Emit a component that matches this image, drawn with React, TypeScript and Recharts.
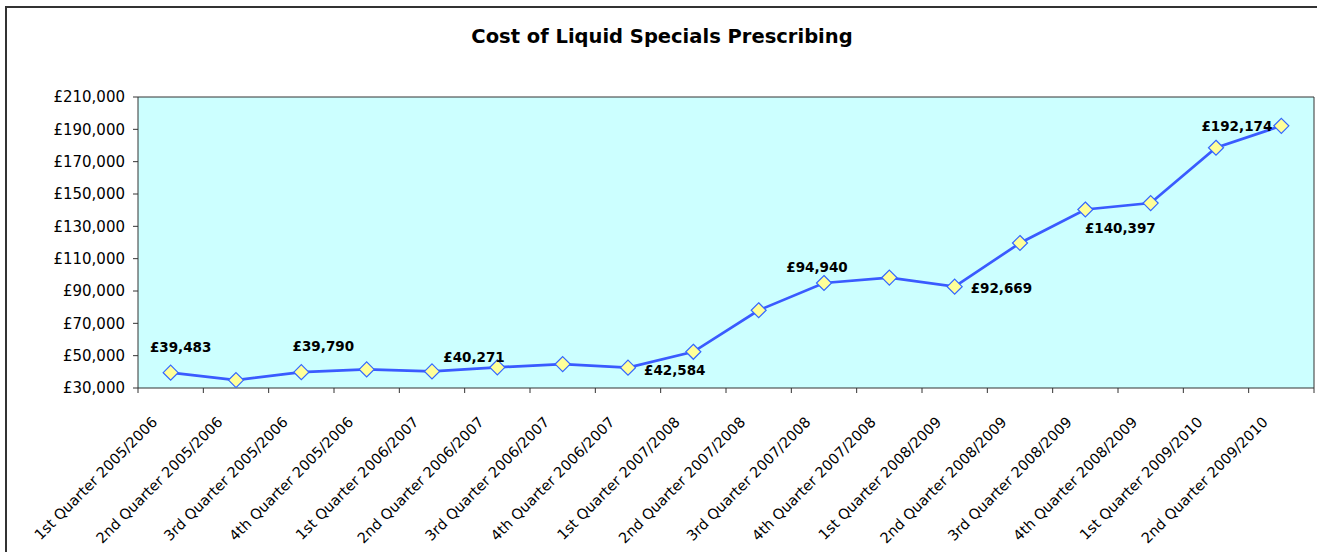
import React from 'react';
import { LineChart, Line, XAxis, YAxis, CartesianGrid, LabelList } from 'recharts';

const categories = [
  '1st Quarter 2005/2006', '2nd Quarter 2005/2006', '3rd Quarter 2005/2006', '4th Quarter 2005/2006',
  '1st Quarter 2006/2007', '2nd Quarter 2006/2007', '3rd Quarter 2006/2007', '4th Quarter 2006/2007',
  '1st Quarter 2007/2008', '2nd Quarter 2007/2008', '3rd Quarter 2007/2008', '4th Quarter 2007/2008',
  '1st Quarter 2008/2009', '2nd Quarter 2008/2009', '3rd Quarter 2008/2009', '4th Quarter 2008/2009',
  '1st Quarter 2009/2010', '2nd Quarter 2009/2010',
];

const costs = [
  39483, 34900, 39790, 41500,
  40271, 42800, 44800, 42584,
  52400, 78100, 94940, 98300,
  92669, 119700, 140397, 144400,
  178600, 192174,
];

const yTicks = [30000, 50000, 70000, 90000, 110000, 130000, 150000, 170000, 190000, 210000];
const labelledIndices = [0, 2, 4, 7, 10, 12, 14, 17];

const title = 'Cost of Liquid Specials Prescribing';

// layout / style
const CHART_W = 1317;
const CHART_H = 552;
const MARGIN = { top: 97, right: 3, bottom: 0, left: 0 };
const Y_AXIS_W = 138;
const X_AXIS_H = 164;
const PLOT_W = CHART_W - MARGIN.left - MARGIN.right - Y_AXIS_W;
const BAND = PLOT_W / categories.length;
const FONT = "'DejaVu Sans', Verdana, sans-serif";
const AXIS = '#333333';
const LINE = '#3A5BFF';

const labelPlacement: Record<number, { dx: number; dy: number; anchor: 'start' | 'middle' | 'end' }> = {
  0: { dx: 10, dy: -21, anchor: 'middle' },
  2: { dx: 22, dy: -21, anchor: 'middle' },
  4: { dx: 42, dy: -9, anchor: 'middle' },
  7: { dx: 16, dy: 7, anchor: 'start' },
  10: { dx: -7, dy: -11, anchor: 'middle' },
  12: { dx: 16, dy: 6, anchor: 'start' },
  14: { dx: 35, dy: 23, anchor: 'middle' },
  17: { dx: -9, dy: 5, anchor: 'end' },
};

const data = categories.map((c, i) => ({ name: c, cost: costs[i] }));

const fmt = (v: number) => '£' + String(Math.round(v)).replace(/\B(?=(\d{3})+(?!\d))/g, ',');

const XTick = (props: any) => {
  const { x, y, payload, index } = props;
  return (
    <g>
      <line x1={x - BAND / 2} y1={y} x2={x - BAND / 2} y2={y + 5} stroke={AXIS} strokeWidth={1} />
      {index === categories.length - 1 && (
        <line x1={x + BAND / 2} y1={y} x2={x + BAND / 2} y2={y + 5} stroke={AXIS} strokeWidth={1} />
      )}
      <text
        transform={`translate(${x - 12.5},${y + 35}) rotate(-45)`}
        textAnchor="end"
        fontSize={14.5}
        fontFamily={FONT}
        fill="#000"
      >
        {payload.value}
      </text>
    </g>
  );
};

const Diamond = (props: any) => {
  const { cx, cy, index } = props;
  if (cx == null || cy == null) return <g key={`d${index}`} />;
  const r = 7.5;
  return (
    <path
      key={`d${index}`}
      d={`M${cx},${cy - r} L${cx + r},${cy} L${cx},${cy + r} L${cx - r},${cy} Z`}
      fill="#FFFF99"
      stroke="#3366FF"
      strokeWidth={1.2}
    />
  );
};

const DataLabel = (props: any) => {
  const { x, y, value, index } = props;
  if (!labelledIndices.includes(index)) return null;
  const p = labelPlacement[index];
  return (
    <text
      x={x + p.dx}
      y={y + p.dy}
      textAnchor={p.anchor}
      fontSize={13.5}
      fontWeight="bold"
      fontFamily={FONT}
      fill="#000"
    >
      {fmt(value)}
    </text>
  );
};

export default function App() {
  return (
    <div
      style={{
        position: 'fixed',
        left: 0,
        top: 0,
        width: CHART_W,
        height: CHART_H,
        overflow: 'hidden',
        background: '#fff',
      }}
    >
      <svg style={{ position: 'absolute', left: 0, top: 0 }} width={CHART_W} height={CHART_H}>
        <line x1={6} y1={6} x2={6} y2={CHART_H} stroke={AXIS} strokeWidth={2} />
        <line x1={5} y1={7} x2={CHART_W} y2={7} stroke={AXIS} strokeWidth={2} />
        <text x={662} y={43} textAnchor="middle" fontSize={19.5} fontWeight="bold" fontFamily={FONT} fill="#000">
          {title}
        </text>
      </svg>
      <div style={{ position: 'absolute', left: 0, top: 0 }}>
        <LineChart width={CHART_W} height={CHART_H} data={data} margin={MARGIN} style={{ fontFamily: FONT }}>
          <CartesianGrid
            fill="#CCFFFF"
            stroke={AXIS}
            horizontal
            vertical
            horizontalCoordinatesGenerator={({ offset }: any) => [offset.top]}
            verticalCoordinatesGenerator={({ offset }: any) => [offset.left + offset.width]}
          />
          <XAxis
            dataKey="name"
            interval={0}
            height={X_AXIS_H}
            padding={{ left: BAND / 2, right: BAND / 2 }}
            tickSize={0}
            tickMargin={0}
            tickLine={false}
            axisLine={{ stroke: AXIS }}
            tick={<XTick />}
          />
          <YAxis
            domain={[30000, 210000]}
            ticks={yTicks}
            width={Y_AXIS_W}
            tickFormatter={fmt}
            tickSize={5}
            tickMargin={8}
            tickLine={{ stroke: AXIS }}
            axisLine={{ stroke: AXIS }}
            tick={{ fontSize: 15, fill: '#000', fontFamily: FONT }}
            allowDataOverflow
          />
          <Line
            type="linear"
            dataKey="cost"
            stroke={LINE}
            strokeWidth={2.7}
            dot={<Diamond />}
            activeDot={false}
            isAnimationActive={false}
          >
            <LabelList dataKey="cost" content={<DataLabel />} />
          </Line>
        </LineChart>
      </div>
    </div>
  );
}
